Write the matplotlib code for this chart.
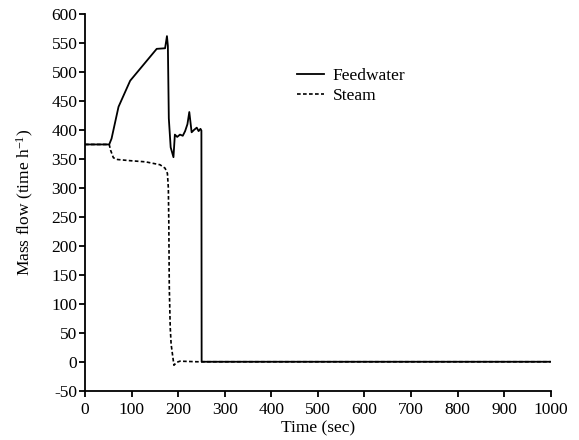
import matplotlib
matplotlib.use("Agg")
import matplotlib.pyplot as plt

plt.rcParams['font.family'] = ['Liberation Serif', 'DejaVu Serif']
plt.rcParams['mathtext.fontset'] = 'custom'
plt.rcParams['mathtext.rm'] = 'Liberation Serif'
plt.rcParams['mathtext.it'] = 'Liberation Serif:italic'
plt.rcParams['axes.unicode_minus'] = False

# Feedwater mass flow
feed_t = [0, 52, 57, 72, 97, 154, 172, 176, 178, 180, 184, 190, 193, 198, 204, 210,
          215, 220, 224, 229, 234, 240, 244, 248, 250, 250.5, 1000]
feed_v = [375, 375, 385, 440, 485, 540, 541, 562, 545, 420, 370, 353, 392, 388, 392, 390,
          398, 410, 431, 396, 400, 404, 398, 402, 399, 0, 0]

# Steam mass flow
steam_t = [0, 52, 55, 61, 70, 97, 130, 161, 172, 177, 179, 180, 181, 183, 185, 191,
           197, 204, 240, 250, 1000]
steam_v = [375, 375, 365, 352, 349, 347, 345, 340, 334, 325, 300, 240, 130, 60, 30, -6,
           -1, 1, 0, 0, 0]

x_ticks = list(range(0, 1001, 100))
y_ticks = list(range(-50, 601, 50))

fig = plt.figure(figsize=(5.79, 4.4), dpi=100)
ax = fig.add_axes([0.1468, 0.112, 0.951 - 0.1468, 0.968 - 0.112])

ax.plot(feed_t, feed_v, color='black', lw=1.3, label='Feedwater')
ax.plot(steam_t, steam_v, color='black', lw=1.2, linestyle=(0, (2.2, 1.4)), label='Steam')

ax.set_xlim(0, 1000)
ax.set_ylim(-50, 600)
ax.set_xticks(x_ticks)
ax.set_yticks(y_ticks)
ax.tick_params(direction='out', length=4, width=1.3, labelsize=12.5, pad=1.5, color='black')
ax.tick_params(axis='x', pad=4)

for side in ['top', 'right']:
    ax.spines[side].set_visible(False)
for side in ['left', 'bottom']:
    ax.spines[side].set_linewidth(1.3)

ax.set_xlabel('Time (sec)', fontsize=12.5, labelpad=2)
ax.set_ylabel(r'Mass flow (time h$^{-1}$)', fontsize=12.5, labelpad=11)

ax.legend(loc='upper left', bbox_to_anchor=(0.44, 0.875), frameon=False, fontsize=12.5,
          handlelength=1.55, handletextpad=0.5, labelspacing=0.2, borderaxespad=0)

fig.savefig('out.png', dpi=100)
